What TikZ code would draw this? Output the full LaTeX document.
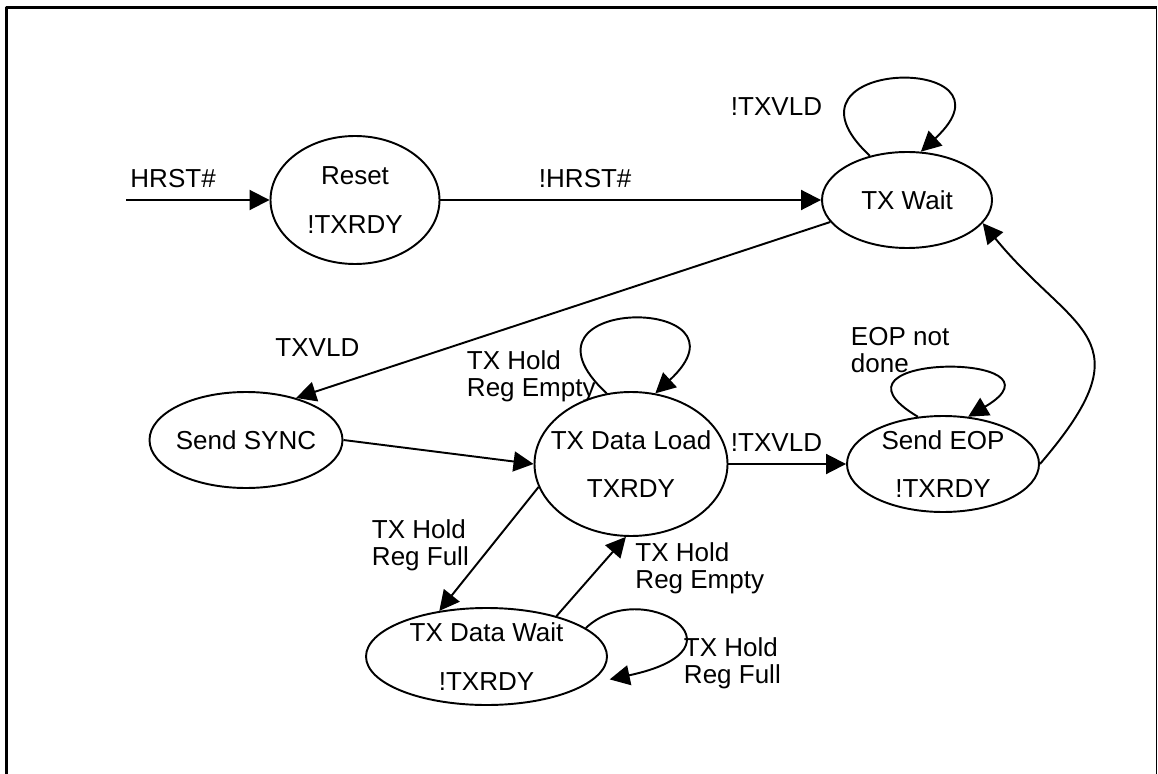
\documentclass[tikz,border=0pt]{standalone}
\usepackage{fontspec}
\setmainfont{Liberation Sans}
\usetikzlibrary{shapes.geometric,arrows.meta}
\begin{document}
\begin{tikzpicture}[>={Triangle[length=4mm,width=4mm]}, font=\fontsize{14.8}{15.4}\selectfont, line join=round, line width=1.1pt,
    state/.style={draw,ellipse,inner sep=0pt},
    stext/.style={align=center,inner sep=0pt},
    lbl/.style={inner sep=0pt,anchor=base west},
    lbltwo/.style={inner sep=0pt,anchor=north west,align=left}]
    \def\W{23.16} \def\H{15.48}
    \useasboundingbox (0,0) rectangle (\W,-\H);
    % frame
    \draw[line width=1.7pt] (0.13,-\H)--(0.13,-0.15)--(23.13,-0.15);
    \draw[line width=0.6pt] (23.13,-0.15)--(23.13,-\H);
    % states
    \node[state,minimum width=3.38cm,minimum height=2.56cm,label={[stext]center:Reset\\[12pt]!TXRDY}] (reset) at (7.10,-4.00) {};
    \node[state,minimum width=3.40cm,minimum height=1.92cm,label={[stext]center:TX Wait}] (txwait) at (18.14,-4.00) {};
    \node[state,minimum width=3.86cm,minimum height=1.92cm,label={[stext]center:Send SYNC}] (sync) at (4.92,-8.80) {};
    \node[state,minimum width=3.86cm,minimum height=2.88cm,label={[stext]center:TX Data Load\\[12pt]TXRDY}] (load) at (12.62,-9.28) {};
    \node[state,minimum width=3.84cm,minimum height=1.92cm,label={[stext]center:Send EOP\\[12pt]!TXRDY}] (eop) at (18.86,-9.28) {};
    \node[state,minimum width=4.82cm,minimum height=1.94cm,label={[stext]center:TX Data Wait\\[12pt]!TXRDY}] (dwait) at (9.73,-13.13) {};
    \coordinate (hin) at (2.52,-4.00);
    % transitions
    \draw[->] (hin) -- (reset.west);
    \draw[->] (reset.east) -- (txwait.west);
    \draw[->] (txwait.130) .. controls +(-2.14,1.98) and +(2.14,1.98) .. (txwait.74);
    \draw[->] (txwait.196) -- (sync.40);
    \draw[->] (sync.east) -- (load.west);
    \draw[->] (load.109) .. controls +(-2.14,1.98) and +(2.14,1.98) .. (load.71);
    \draw[->] (load.east) -- (eop.west);
    \draw[->] (eop.118) .. controls +(-2.2,1.3) and +(2.2,1.3) .. (eop.62);
    \draw[->] (eop.east) .. controls +(2.2,2.56) and +(1.8,-2.2) .. (txwait.-17);
    \draw[->] (load.194) -- (dwait.136);
    \draw[->] (dwait.30) -- (load.266);
    \draw[->] (dwait.16) .. controls +(1.12,1.06) and +(2.94,0.62) .. ([xshift=3.1mm]dwait.-12);
    % labels
    \node[lbl] (lhrst) at (2.59,-3.75) {HRST\#};
    \node[lbl] (lnhrst) at (10.76,-3.76) {!HRST\#};
    \node[lbl] (lnvldw) at (14.60,-2.32) {!TXVLD};
    \node[lbl] (lvld) at (5.49,-7.12) {TXVLD};
    \node[lbl] (lnvldl) at (14.60,-9.03) {!TXVLD};
    \node[lbltwo] (lemptyl) at (9.32,-7.00) {TX Hold\\Reg Empty};
    \node[lbltwo] (lfull) at (7.42,-10.37) {TX Hold\\Reg Full};
    \node[lbltwo] (lemptyw) at (12.69,-10.83) {TX Hold\\Reg Empty};
    \node[lbltwo] (lfullw) at (13.66,-12.73) {TX Hold\\Reg Full};
    \node[lbltwo] (leop) at (17.00,-6.53) {EOP not\\done};
\end{tikzpicture}
\end{document}
